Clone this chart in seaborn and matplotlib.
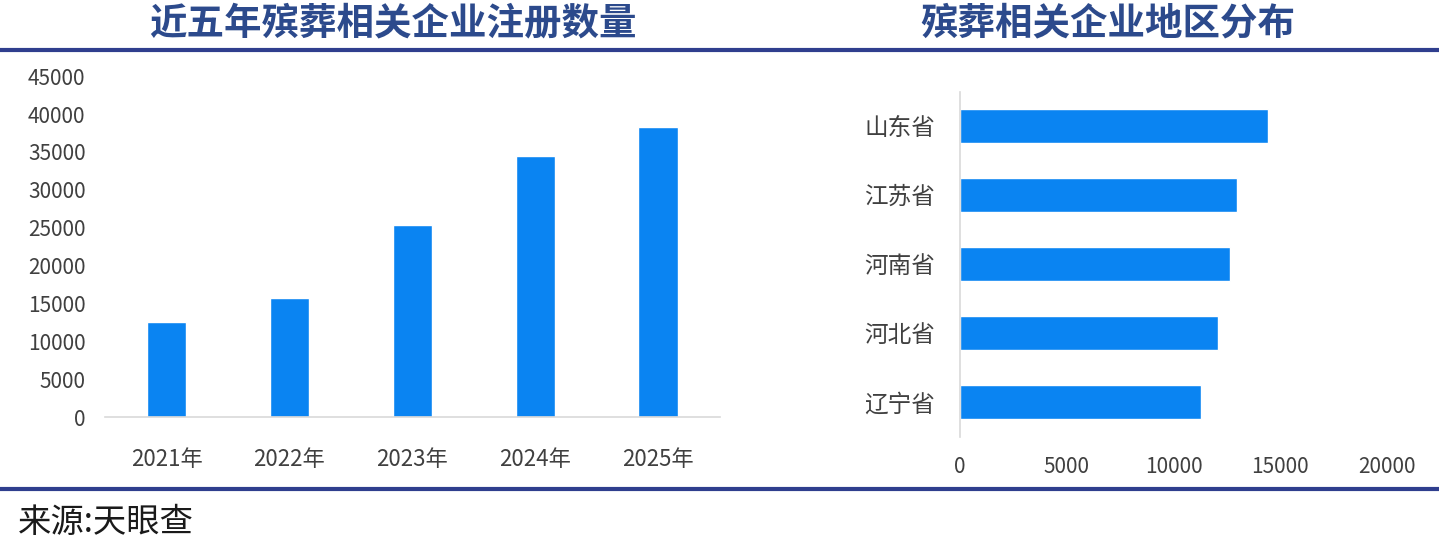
import matplotlib
matplotlib.use("Agg")
import matplotlib.pyplot as plt
from matplotlib.lines import Line2D
import pandas as pd
import seaborn as sns

years = ["2021年", "2022年", "2023年", "2024年", "2025年"]
registrations = [12600, 15700, 25300, 34400, 38300]

provinces = ["山东省", "江苏省", "河南省", "河北省", "辽宁省"]
province_counts = [14400, 12950, 12650, 12100, 11300]

left_ticks = list(range(0, 45001, 5000))
right_ticks = list(range(0, 20001, 5000))

sns.set_theme(style="white")
plt.rcParams["font.family"] = ["Noto Sans CJK SC", "DejaVu Sans"]

bar_color = "#0A84F2"
title_color = "#2C4A8C"
rule_color = "#2F3E8E"
tick_color = "#404040"
spine_color = "#D9D9D9"

fig = plt.figure(figsize=(14.39, 5.48), dpi=100)

# left: yearly registrations
ax1 = fig.add_axes([0.073, 0.239, 0.427, 0.622])
df1 = pd.DataFrame({"year": years, "count": registrations})
sns.barplot(data=df1, x="year", y="count", color=bar_color, width=0.32,
            saturation=1, ax=ax1)
ax1.set_xlim(-0.5, 4.5)
ax1.set_ylim(0, 45000)
ax1.set_yticks(left_ticks)
ax1.set_xlabel("")
ax1.set_ylabel("")
for s in ["top", "right", "left"]:
    ax1.spines[s].set_visible(False)
ax1.spines["bottom"].set_color(spine_color)
ax1.spines["bottom"].set_linewidth(1.2)
ax1.tick_params(axis="y", length=0, pad=14, labelsize=15, labelcolor=tick_color)
ax1.tick_params(axis="x", length=0, pad=22, labelsize=16, labelcolor=tick_color)

# right: provinces
ax2 = fig.add_axes([0.667, 0.203, 0.297, 0.630])
df2 = pd.DataFrame({"province": provinces, "count": province_counts})
sns.barplot(data=df2, x="count", y="province", orient="h", color=bar_color,
            width=0.5, saturation=1, ax=ax2)
ax2.set_xlim(0, 20000)
ax2.set_ylim(4.5, -0.5)
ax2.set_xticks(right_ticks)
ax2.set_xlabel("")
ax2.set_ylabel("")
for s in ["top", "right", "bottom"]:
    ax2.spines[s].set_visible(False)
ax2.spines["left"].set_color(spine_color)
ax2.spines["left"].set_linewidth(1.2)
ax2.tick_params(axis="x", length=0, pad=14, labelsize=15, labelcolor=tick_color)
ax2.tick_params(axis="y", length=0, pad=18, labelsize=17, labelcolor=tick_color)

# titles, rules and source
fig.text(0.273, 0.958, "近五年殡葬相关企业注册数量", ha="center", va="center",
         fontsize=27, fontweight="bold", color=title_color)
fig.text(0.770, 0.958, "殡葬相关企业地区分布", ha="center", va="center",
         fontsize=27, fontweight="bold", color=title_color)
for y in [0.909, 0.108]:
    fig.add_artist(Line2D([0, 1], [y, y], transform=fig.transFigure,
                          color=rule_color, linewidth=3))
fig.text(0.0125, 0.047, "来源:天眼查", ha="left", va="center",
         fontsize=24, color="#1A1A1A")

fig.savefig("out.png", dpi=100)
